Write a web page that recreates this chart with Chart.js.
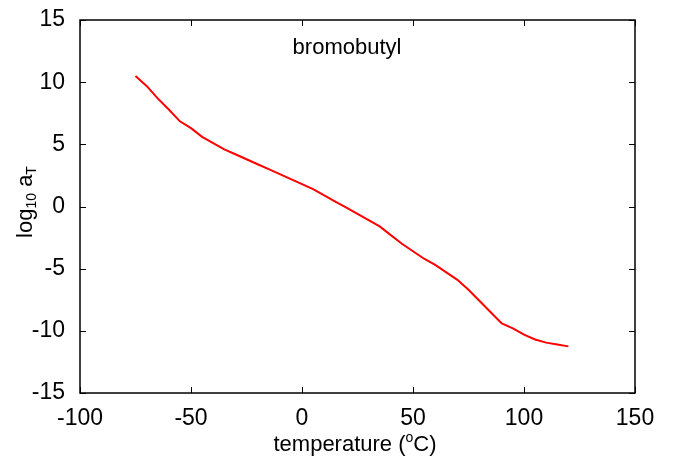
<!DOCTYPE html>
<html>
<head>
<meta charset="UTF-8">
<script src="https://cdn.jsdelivr.net/npm/chart.js@4.4.4/dist/chart.umd.min.js"></script>
</head>
<body style="margin:0; background:#fff;">
<div style="width:682px; height:459px;">
    <canvas id="c" width="682" height="459"></canvas>
</div>
<script>
const temps = [-75, -70, -65, -60, -55, -50, -45, -40, -35, -30, -25, -20, -15, -10, -5,
    0, 5, 10, 15, 20, 25, 30, 35, 40, 45, 50, 55, 60, 65, 70, 75, 80, 85, 90, 95, 100, 105, 110, 115, 120];
const logAT = [10.5, 9.7, 8.7, 7.8, 6.85, 6.3, 5.6, 5.1, 4.6, 4.2, 3.8, 3.4, 3.0, 2.6, 2.2,
    1.8, 1.4, 0.9, 0.4, -0.1, -0.6, -1.1, -1.6, -2.3, -3.0, -3.6, -4.2, -4.7, -5.3, -5.9, -6.7, -7.6, -8.5, -9.4, -9.8, -10.3, -10.7, -10.95, -11.1, -11.25];
const xTicks = [-100, -50, 0, 50, 100, 150];
const yTicks = [-15, -10, -5, 0, 5, 10, 15];

const FONT = 'Liberation Sans, Arial, sans-serif';

// frame, inward ticks and the axis titles (gnuplot style)
const framePlugin = {
    id: 'frame',
    afterDraw(chart) {
        const ctx = chart.ctx, a = chart.chartArea;
        const xs = chart.scales.x, ys = chart.scales.y;
        ctx.save();
        ctx.strokeStyle = '#000';
        ctx.lineWidth = 1.5;
        ctx.strokeRect(a.left, a.top, a.right - a.left, a.bottom - a.top);
        ctx.lineWidth = 1;
        ctx.beginPath();
        xTicks.forEach(v => {
            const px = Math.round(xs.getPixelForValue(v)) + 0.5;
            ctx.moveTo(px, a.bottom); ctx.lineTo(px, a.bottom - 6);
            ctx.moveTo(px, a.top); ctx.lineTo(px, a.top + 6);
        });
        yTicks.forEach(v => {
            const py = Math.round(ys.getPixelForValue(v)) + 0.5;
            ctx.moveTo(a.left, py); ctx.lineTo(a.left + 6, py);
            ctx.moveTo(a.right, py); ctx.lineTo(a.right - 6, py);
        });
        ctx.stroke();

        ctx.fillStyle = '#000';
        // label inside
        ctx.font = '22px ' + FONT;
        ctx.textAlign = 'center';
        ctx.textBaseline = 'alphabetic';
        ctx.fillText('bromobutyl', 347, 54);

        // x title: temperature (°C)
        ctx.textAlign = 'left';
        const t1 = 'temperature (', t2 = 'C)';
        ctx.font = '22px ' + FONT;
        const w1 = ctx.measureText(t1).width;
        ctx.font = '14px ' + FONT;
        const wo = ctx.measureText('o').width;
        ctx.font = '22px ' + FONT;
        const w2 = ctx.measureText(t2).width;
        let x0 = 355 - (w1 + wo + w2) / 2;
        const by = 451;
        ctx.fillText(t1, x0, by);
        ctx.font = '14px ' + FONT;
        ctx.fillText('o', x0 + w1, by - 9);
        ctx.font = '22px ' + FONT;
        ctx.fillText(t2, x0 + w1 + wo, by);

        // y title: log10 aT
        ctx.translate(32, 202);
        ctx.rotate(-Math.PI / 2);
        const parts = [['log', 22, 0], ['10', 14, 4], [' a', 22, 0], ['T', 14, 4]];
        let tw = 0;
        parts.forEach(p => { ctx.font = p[1] + 'px ' + FONT; tw += ctx.measureText(p[0]).width; });
        let cx = -tw / 2;
        parts.forEach(p => {
            ctx.font = p[1] + 'px ' + FONT;
            ctx.fillText(p[0], cx, p[2]);
            cx += ctx.measureText(p[0]).width;
        });
        ctx.restore();
    }
};

new Chart(document.getElementById('c'), {
    type: 'line',
    data: {
        datasets: [{
            data: temps.map((t, i) => ({ x: t, y: logAT[i] })),
            borderColor: '#ff0000',
            borderWidth: 2,
            pointRadius: 0,
            tension: 0,
            fill: false
        }]
    },
    options: {
        responsive: false,
        animation: false,
        layout: { padding: { top: 20, right: 47, left: 0, bottom: 0 } },
        plugins: { legend: { display: false }, tooltip: { enabled: false } },
        scales: {
            x: {
                type: 'linear', min: -100, max: 150,
                afterBuildTicks: s => { s.ticks = xTicks.map(v => ({ value: v })); },
                afterFit: s => { s.height = 66; s.paddingLeft = 0; s.paddingRight = 0; },
                grid: { display: false, drawTicks: false },
                border: { display: false },
                ticks: { color: '#000', padding: 12, maxRotation: 0, font: { size: 23, family: FONT } }
            },
            y: {
                type: 'linear', min: -15, max: 15,
                afterBuildTicks: s => { s.ticks = yTicks.map(v => ({ value: v })); },
                afterFit: s => { s.width = 80; s.paddingTop = 0; s.paddingBottom = 0; },
                grid: { display: false, drawTicks: false },
                border: { display: false },
                ticks: { color: '#000', padding: 15, font: { size: 23, family: FONT } }
            }
        }
    },
    plugins: [framePlugin]
});
</script>
</body>
</html>
